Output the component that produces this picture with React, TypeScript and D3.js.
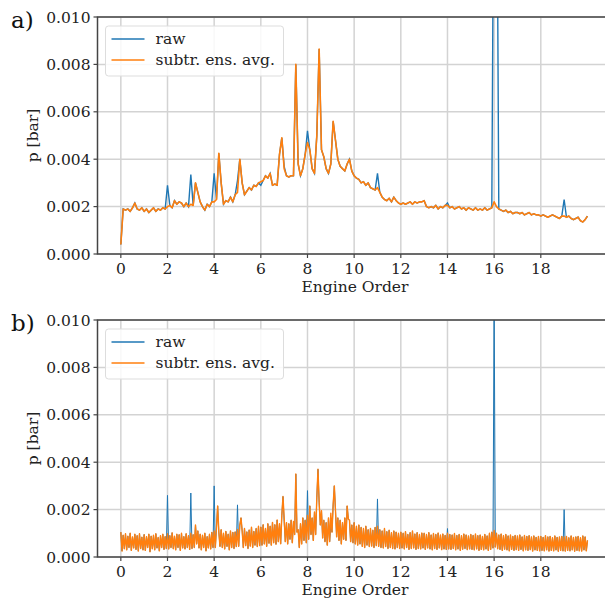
import React from "react";
import * as d3 from "d3";

// engine order ticks / y ticks
const xTicks = [0, 2, 4, 6, 8, 10, 12, 14, 16, 18];
const yTicks = [0, 0.002, 0.004, 0.006, 0.008, 0.01];
const seriesNames = ["raw", "subtr. ens. avg."];
const panelLabels = ["a)", "b)"];

// panel a: subtr. ens. avg., step 0.1 EO, units 1e-4 bar
const topStep = 0.1;
const topAvg = [
  4, 19, 18.5, 19, 18, 19.5, 21.5, 19, 18.5, 19.5,
  18, 19, 17.5, 18.5, 19.5, 18, 19, 18.5, 19.5, 19,
  20, 20.5, 19.5, 22.5, 21, 22, 21.5, 20, 21.5, 20,
  21, 20.5, 30, 26, 22, 20, 18.5, 21, 20, 22,
  22, 23, 42.5, 30, 21, 22.5, 22, 24, 22, 25,
  26, 40, 30, 25, 26.5, 28, 27, 29, 28.5, 30,
  30.5, 31, 33, 32, 34, 29, 29.5, 29, 42, 49,
  36, 33, 32.5, 33, 33, 80, 38, 33, 36, 42,
  47, 44, 36, 34, 50, 86.5, 44, 41, 36, 34,
  38, 56, 48, 40, 37, 36, 35, 38, 40, 35,
  33, 32, 31.5, 30, 30.5, 29, 30, 28, 27.5, 27,
  28, 26, 24, 23, 22.5, 23.5, 22, 24, 22.5, 21.5,
  21, 21.5, 21, 21.5, 22, 21, 22, 21.5, 22, 22,
  22.5, 20, 19.5, 20, 19.5, 20.5, 19, 20, 19.5, 20.5,
  20.5, 19.5, 20, 19, 19.5, 20, 19, 19.5, 18.5, 19.5,
  19, 18.5, 19.5, 18.5, 19, 18.5, 19.5, 18.5, 19, 19.5,
  22, 20, 19, 18.5, 18, 18.5, 17.5, 18, 17, 17.5,
  17.5, 17, 17.5, 16.5, 17, 17.5, 16.5, 17, 16.5, 16.5,
  16, 16.5, 16, 15.5, 16, 16.5, 16, 15.5, 15, 16,
  16, 15.5, 16, 15, 14.5, 15, 15.5, 14, 13.5, 14.5,
  16,
];
// raw differs from the averaged one at these orders (units 1e-4 bar)
const topRawOrders = [2, 3, 4, 5, 6, 7, 8, 11, 14, 16, 16.1, 19];
const topRawValues = [29, 33.5, 34, 31, 29, 37, 52, 34, 21.5, 200, 200, 23];

// panel b: subtr. ens. avg., step 0.05 EO, units 1e-5 bar
const botStep = 0.05;
const botAvg = [
  105, 25, 92, 35, 98, 30, 88, 40, 100, 28, 85, 38, 96, 32, 90, 25, 98, 36, 84, 30,
  94, 28, 86, 40, 96, 22, 88, 35, 92, 30, 98, 38, 82, 26, 90, 40, 96, 32, 86, 36,
  98, 34, 90, 40, 102, 35, 88, 30, 96, 40, 94, 28, 100, 38, 86, 34, 98, 40, 90, 32,
  100, 36, 94, 40, 135, 55, 110, 38, 96, 30, 92, 40, 100, 26, 86, 38, 96, 34, 104, 40,
  110, 40, 125, 215, 105, 45, 115, 40, 100, 34, 108, 45, 96, 30, 110, 40, 104, 36, 106, 44,
  116, 45, 135, 165, 110, 40, 120, 48, 106, 36, 114, 46, 126, 40, 108, 50, 120, 44, 130, 48,
  126, 50, 136, 55, 120, 45, 140, 58, 130, 50, 146, 60, 136, 54, 156, 65, 140, 56, 175, 255,
  165, 65, 145, 55, 140, 75, 155, 60, 150, 95, 350, 105, 115, 40, 140, 55, 165, 70, 155, 60,
  175, 75, 215, 95, 165, 70, 190, 95, 250, 370, 230, 135, 195, 80, 155, 65, 145, 50, 165, 65,
  185, 105, 220, 300, 195, 85, 165, 70, 155, 55, 145, 75, 165, 70, 215, 160, 155, 65, 135, 60,
  145, 55, 130, 50, 135, 55, 125, 45, 120, 40, 130, 50, 115, 44, 120, 46, 113, 40, 125, 48,
  130, 45, 115, 40, 110, 38, 120, 44, 107, 36, 113, 40, 103, 36, 110, 34, 105, 40, 100, 36,
  105, 38, 100, 34, 107, 40, 95, 32, 103, 36, 110, 38, 97, 32, 103, 36, 95, 34, 101, 38,
  100, 32, 95, 38, 103, 34, 93, 30, 99, 36, 95, 32, 101, 38, 93, 31, 97, 34, 91, 32,
  100, 34, 95, 32, 93, 36, 99, 30, 91, 34, 95, 28, 90, 33, 97, 36, 93, 31, 89, 34,
  95, 32, 91, 30, 97, 34, 90, 28, 93, 32, 87, 30, 95, 34, 89, 28, 100, 32, 105, 38,
  112, 42, 100, 35, 93, 32, 97, 28, 90, 33, 95, 30, 89, 26, 93, 32, 87, 28, 91, 31,
  89, 28, 93, 32, 85, 26, 91, 30, 87, 28, 90, 31, 85, 25, 89, 30, 83, 28, 87, 26,
  87, 28, 83, 26, 90, 30, 85, 25, 87, 28, 81, 26, 89, 30, 83, 24, 85, 28, 87, 26,
  85, 25, 87, 28, 81, 26, 89, 30, 83, 24, 85, 28, 87, 26, 81, 25, 89, 30, 85, 26,
  70,
];
const botRawOrders = [1, 2, 3, 4, 5, 7, 8, 9, 11, 14, 16, 19];
const botRawValues = [95, 260, 270, 300, 220, 150, 280, 130, 245, 120, 1100, 200];

const BLUE = "#1f77b4";
const ORANGE = "#ff7f0e";
const FONT = "DejaVu Serif";

type Pt = [number, number];

function buildSeries(vals: number[], step: number, unit: number): Pt[] {
  return vals.map((v, i) => [i * step, v * unit]);
}

function withSpikes(base: Pt[], step: number, orders: number[], vals: number[], unit: number): Pt[] {
  const out = base.map((p) => [p[0], p[1]] as Pt);
  orders.forEach((o, k) => {
    const idx = Math.round(o / step);
    out[idx] = [out[idx][0], vals[k] * unit];
  });
  return out;
}

const topAvgPts = buildSeries(topAvg, topStep, 1e-4);
const topRawPts = withSpikes(topAvgPts, topStep, topRawOrders, topRawValues, 1e-4);
const botAvgPts = buildSeries(botAvg, botStep, 1e-5);
const botRawPts = withSpikes(botAvgPts, botStep, botRawOrders, botRawValues, 1e-5);

const x = d3.scaleLinear().domain([-1, 21]).range([97.5, 610.8]);

function Panel({ top, label, raw, avg, lw, rawLw, id }: { top: number; label: string; raw: Pt[]; avg: Pt[]; lw: number; rawLw: number; id: string }) {
  const y = d3.scaleLinear().domain([0, 0.01]).range([top + 237, top]);
  const line = d3.line<Pt>().x((d) => x(d[0])).y((d) => y(d[1]));
  const [x0, x1] = x.range();
  const [yb, yt] = y.range();
  const legX = x0 + 8;
  const legY = top + 9;
  return (
    <g>
      <defs>
        <clipPath id={id}>
          <rect x={x0} y={yt} width={x1 - x0} height={yb - yt} />
        </clipPath>
      </defs>
      {/* grid */}
      {xTicks.map((t) => (
        <line key={"gx" + t} x1={x(t)} x2={x(t)} y1={yt} y2={yb} stroke="#d3d3d3" strokeWidth={1.5} />
      ))}
      {yTicks.map((t) => (
        <line key={"gy" + t} x1={x0} x2={x1} y1={y(t)} y2={y(t)} stroke="#d3d3d3" strokeWidth={1.5} />
      ))}
      <g clipPath={`url(#${id})`}>
        <path d={line(raw) || ""} fill="none" stroke={BLUE} strokeWidth={rawLw} />
        <path d={line(avg) || ""} fill="none" stroke={ORANGE} strokeWidth={lw} strokeLinejoin="round" />
      </g>
      {/* frame */}
      <rect x={x0} y={yt} width={x1 - x0} height={yb - yt} fill="none" stroke="#444" strokeWidth={1.5} />
      {xTicks.map((t) => (
        <g key={"tx" + t}>
          <line x1={x(t)} x2={x(t)} y1={yb} y2={yb + 4} stroke="#444" strokeWidth={1.2} />
          <text x={x(t)} y={yb + 20} textAnchor="middle" fontFamily={FONT} fontSize={15.5} fill="#222">
            {t}
          </text>
        </g>
      ))}
      {yTicks.map((t) => (
        <g key={"ty" + t}>
          <line x1={x0 - 4} x2={x0} y1={y(t)} y2={y(t)} stroke="#444" strokeWidth={1.2} />
          <text x={x0 - 7} y={y(t) + 5.5} textAnchor="end" fontFamily={FONT} fontSize={15.5} fill="#222">
            {d3.format(".3f")(t)}
          </text>
        </g>
      ))}
      <text x={355} y={yb + 38} textAnchor="middle" fontFamily={FONT} fontSize={15.5} fill="#222">
        Engine Order
      </text>
      <text
        transform={`translate(38,${(yt + yb) / 2}) rotate(-90)`}
        textAnchor="middle"
        fontFamily={FONT}
        fontSize={15.5}
        fill="#222"
      >
        p [bar]
      </text>
      <text x={11} y={top + 11} fontFamily={FONT} fontSize={23} fill="#111">
        {label}
      </text>
      {/* legend */}
      <rect x={legX} y={legY} width={178} height={50} rx={3} fill="white" fillOpacity={0.85} stroke="#ddd" />
      {seriesNames.map((n, i) => (
        <g key={n}>
          <line
            x1={legX + 6}
            x2={legX + 39}
            y1={legY + 13 + i * 21}
            y2={legY + 13 + i * 21}
            stroke={i === 0 ? BLUE : ORANGE}
            strokeWidth={1.6}
          />
          <text x={legX + 50} y={legY + 18 + i * 21} fontFamily={FONT} fontSize={15.5} fill="#222">
            {n}
          </text>
        </g>
      ))}
    </g>
  );
}

export default function App() {
  return (
    <svg width={605} height={598} style={{ position: "absolute", left: 0, top: 0, background: "white" }}>
      <Panel top={17} label={panelLabels[0]} raw={topRawPts} avg={topAvgPts} lw={1.6} rawLw={1.4} id="clipA" />
      <Panel top={320} label={panelLabels[1]} raw={botRawPts} avg={botAvgPts} lw={1.4} rawLw={1.0} id="clipB" />
    </svg>
  );
}
